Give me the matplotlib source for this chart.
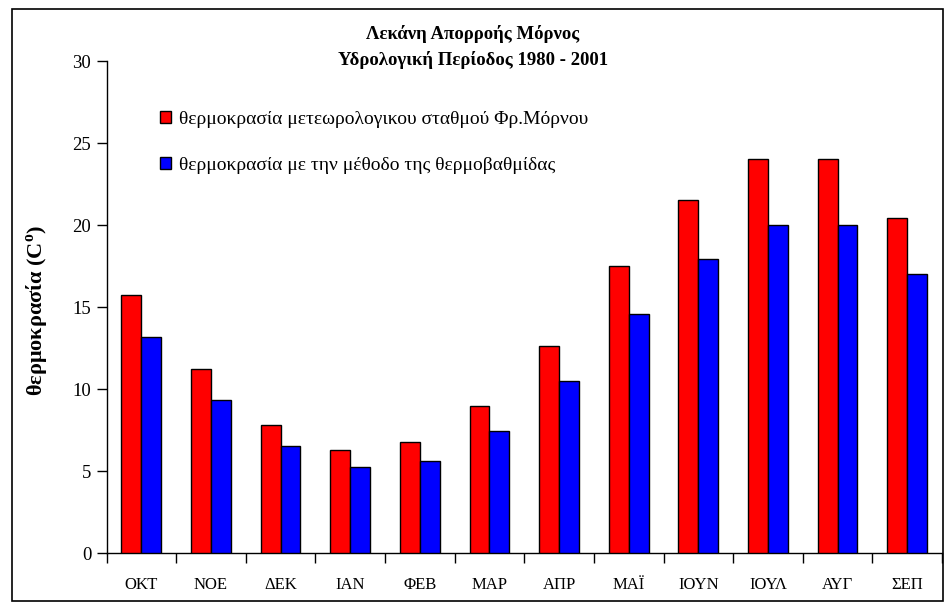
import matplotlib
matplotlib.use("Agg")
import matplotlib.pyplot as plt
from matplotlib.patches import Rectangle, Patch
import numpy as np

plt.rcParams['font.family'] = ['Liberation Serif', 'DejaVu Serif']
plt.rcParams['mathtext.fontset'] = 'custom'
plt.rcParams['mathtext.rm'] = 'Liberation Serif'
plt.rcParams['mathtext.bf'] = 'Liberation Serif:bold'

months = ["ΟΚΤ", "ΝΟΕ", "ΔΕΚ", "ΙΑΝ", "ΦΕΒ", "ΜΑΡ", "ΑΠΡ", "ΜΑΪ", "ΙΟΥΝ", "ΙΟΥΛ", "ΑΥΓ", "ΣΕΠ"]
station_temp = [15.75, 11.2, 7.8, 6.3, 6.75, 8.95, 12.6, 17.5, 21.5, 24.05, 24.05, 20.4]
gradient_temp = [13.15, 9.3, 6.5, 5.27, 5.6, 7.45, 10.5, 14.55, 17.95, 20.02, 20.02, 17.0]

label_station = "θερμοκρασία μετεωρολογικου σταθμού Φρ.Μόρνου"
label_gradient = "θερμοκρασία με την μέθοδο της θερμοβαθμίδας"
title = "Λεκάνη Απορροής Μόρνος\nΥδρολογική Περίοδος 1980 - 2001"
ylabel = r"θερμοκρασία (C$^{\mathbf{o}}$)"
yticks = [0, 5, 10, 15, 20, 25, 30]

W, H = 946, 605
fig = plt.figure(figsize=(W / 100, H / 100), dpi=100)
ax = fig.add_axes([106.5 / W, 1 - 553 / H, (942 - 106.5) / W, (553 - 61) / H])

x = np.arange(len(months))
bw = 0.285
ax.bar(x - bw / 2, station_temp, bw, color="#ff0000", edgecolor="black", linewidth=1.0,
       label=label_station, zorder=3)
ax.bar(x + bw / 2, gradient_temp, bw, color="#0000ff", edgecolor="black", linewidth=1.0,
       label=label_gradient, zorder=3)

ax.set_xlim(-0.5, len(months) - 0.5)
ax.set_ylim(0, 30)
ax.set_yticks(yticks)
ax.set_xticks(x)
ax.set_xticklabels(months)
ax.set_xticks(np.arange(-0.5, len(months), 1.0), minor=True)
ax.tick_params(axis="x", which="major", length=0, pad=17, labelsize=12)
ax.tick_params(axis="x", which="minor", length=7, direction="out", width=1)
ax.tick_params(axis="y", length=7, direction="out", width=1, labelsize=13.5, pad=4)

for s in ["top", "right"]:
    ax.spines[s].set_visible(False)
for s in ["left", "bottom"]:
    ax.spines[s].set_linewidth(1)

fig.text(37 / W, 1 - 310 / H, ylabel, rotation=90, ha="center", va="center",
         fontsize=16, fontweight="bold")

fig.text(473 / W, 1 - 47 / H, title, ha="center", va="center", fontsize=13.5,
         fontweight="bold", linespacing=1.6)

handles = [Patch(facecolor="#ff0000", edgecolor="black", linewidth=1),
           Patch(facecolor="#0000ff", edgecolor="black", linewidth=1)]
fig.legend(handles, [label_station, label_gradient], loc="upper left",
           bbox_to_anchor=(160 / W, 1 - 111 / H), frameon=False, fontsize=14,
           handlelength=0.55, handleheight=0.55, handletextpad=0.45, labelspacing=1.5,
           borderpad=0, borderaxespad=0)

fig.add_artist(Rectangle((12 / W, 1 - 601 / H), (943 - 12) / W, (601 - 9) / H,
                         transform=fig.transFigure, fill=False, edgecolor="black",
                         linewidth=1.2))

fig.savefig("out.png", dpi=100, facecolor="white")
